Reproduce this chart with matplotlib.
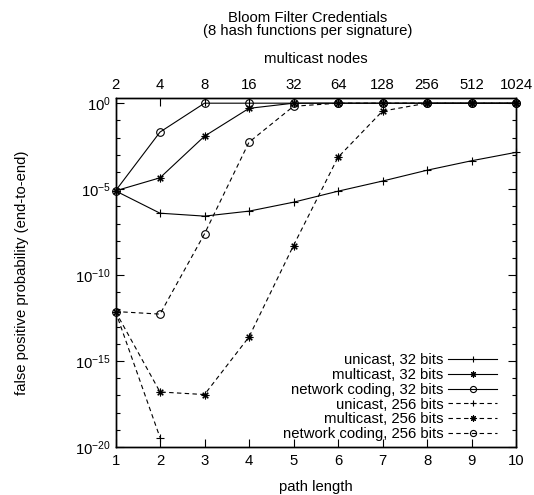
import matplotlib
matplotlib.use("Agg")
import matplotlib.pyplot as plt
import numpy as np
from matplotlib.ticker import FixedLocator, FuncFormatter

plt.rcParams['font.family'] = ['Liberation Sans', 'DejaVu Sans']
plt.rcParams['mathtext.default'] = 'regular'
plt.rcParams['font.size'] = 10.7

# path length and multicast nodes
path_length = [1, 2, 3, 4, 5, 6, 7, 8, 9, 10]
multicast_nodes = [2, 4, 8, 16, 32, 64, 128, 256, 512, 1024]

# log10 of false positive probability
uni32 = [-5.1, -6.4, -6.57, -6.28, -5.76, -5.12, -4.53, -3.9, -3.35, -2.86]
multi32 = [-5.1, -4.34, -1.92, -0.3, 0, 0, 0, 0, 0, 0]
nc32 = [-5.1, -1.68, 0, 0, 0, 0, 0, 0, 0, 0]
uni256 = [-12.12, -19.45]
multi256 = [-12.12, -16.8, -16.95, -13.6, -8.28, -3.15, -0.46, 0, 0, 0]
nc256 = [-12.12, -12.27, -7.6, -2.27, -0.18, 0, 0, 0, 0, 0]

labels = ["unicast, 32 bits", "multicast, 32 bits", "network coding, 32 bits",
          "unicast, 256 bits", "multicast, 256 bits", "network coding, 256 bits"]

asterisk = (8, 2, 0)
dash = (0, (4, 3))
series = [
    (uni32, '+', '-'),
    (multi32, asterisk, '-'),
    (nc32, 'o', '-'),
    (uni256, '+', dash),
    (multi256, asterisk, dash),
    (nc256, 'o', dash),
]

fig = plt.figure(figsize=(5.34, 4.95), dpi=100)
ax = fig.add_axes([0.2163, 0.097, 0.75, 0.705])

for (vals, mk, ls), lab in zip(series, labels):
    x = path_length[:len(vals)]
    y = 10.0 ** np.array(vals)
    ax.plot(x, y, color='black', lw=0.8, linestyle=ls, marker=mk,
            markersize=5.5, mfc='none', mew=0.8, label=lab, clip_on=False)

ax.set_yscale('log')
ax.set_ylim(1e-20, 2)
ax.set_xlim(1, 10)
ax.set_xticks(path_length)
ax.yaxis.set_major_locator(FixedLocator([1e-20, 1e-15, 1e-10, 1e-5, 1]))
ax.yaxis.set_minor_locator(FixedLocator([10.0 ** k for k in range(-20, 1)]))
ax.yaxis.set_major_formatter(FuncFormatter(lambda v, p: r'$10^{%d}$' % round(np.log10(v))))
ax.yaxis.set_minor_formatter(FuncFormatter(lambda v, p: ''))
ax.tick_params(axis='both', which='both', direction='in', right=True, top=False)
ax.tick_params(axis='both', which='major', length=6, width=0.8)
ax.tick_params(axis='y', which='minor', length=3, width=0.8)
ax.tick_params(axis='x', which='major', pad=5)

top = ax.twiny()
top.set_xlim(1, 10)
top.set_xticks(path_length)
top.set_xticklabels([str(n) for n in multicast_nodes])
top.tick_params(axis='x', direction='in', length=6, width=0.8, pad=4)
top.set_xlabel("multicast nodes", labelpad=11)

for a in (ax, top):
    for s in a.spines.values():
        s.set_linewidth(1.0)

ax.set_xlabel("path length", labelpad=9)
ax.set_ylabel("false positive probability (end-to-end)", labelpad=33)

fig.text(0.577, 0.951, "Bloom Filter Credentials\n(8 hash functions per signature)",
         ha='center', va='center', linespacing=0.95)

leg = ax.legend(loc='lower right', bbox_to_anchor=(0.953, 0.017), markerfirst=False,
                frameon=False, borderaxespad=0, borderpad=0, handlelength=3.3,
                handletextpad=0.3, labelspacing=0.05, markerscale=0.8)

fig.savefig("out.png", dpi=100)
